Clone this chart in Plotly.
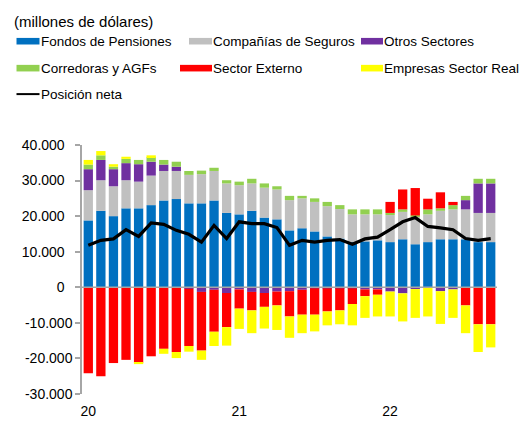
import plotly.graph_objects as go

# ---------------- data (millones de dólares) ----------------
months = [f"{m}-{y}" for y in ("20", "21", "22") for m in
          ("ene", "feb", "mar", "abr", "may", "jun", "jul", "ago", "sep", "oct", "nov", "dic")][:33]

fondos_pensiones = [18.8, 21.5, 20.0, 22.2, 22.2, 23.1, 24.4, 24.8, 23.6, 23.6, 24.4,
                    20.9, 20.5, 21.5, 19.6, 19.1, 16.0, 16.6, 15.7, 14.3, 13.7, 12.7,
                    12.9, 13.2, 12.7, 13.5, 12.1, 12.7, 13.5, 13.5, 13.5, 12.7, 12.7]
companias_seguros = [8.5, 8.6, 8.4, 7.9, 7.5, 8.3, 8.3, 7.9, 8.0, 8.2, 8.3,
                     8.3, 8.2, 7.7, 8.4, 8.4, 8.5, 8.4, 8.3, 8.5, 8.3, 7.8,
                     7.6, 7.3, 7.6, 7.7, 7.9, 7.8, 8.0, 8.4, 8.4, 8.2, 8.2]
otros_sectores = [5.9, 5.7, 4.8, 4.8, 4.9, 3.9, 1.8, 1.2, -0.4, -1.3, -0.7,
                  -1.6, -0.6, -1.3, -1.6, -1.2, -1.1, -0.7, -0.3, -0.3, -0.3, -0.3,
                  -0.6, -0.6, -1.2, -1.7, -0.5, -0.2, -1.1, -0.6, 2.6, 8.3, 8.3]
corredoras_agf = [1.3, 1.3, 0.7, 1.2, 1.2, 1.3, 1.3, 1.4, 1.1, 1.0, 0.9,
                  0.9, 1.0, 1.3, 1.2, 0.9, 1.2, 0.7, 1.0, 1.2, 1.1, 1.4,
                  1.4, 1.4, 0.6, 0.7, 0.2, 1.4, 0.7, 1.2, 1.2, 1.3, 1.3]
sector_externo = [-24.2, -25.0, -21.3, -20.4, -21.2, -19.4, -17.3, -18.2, -16.1, -16.5, -11.8,
                  -9.6, -5.4, -5.2, -3.9, -3.9, -7.1, -7.0, -7.4, -6.5, -6.2, -4.4,
                  -1.9, -1.5, 3.1, 5.6, 7.7, 3.0, 4.5, 0.9, -5.1, -10.4, -10.4]
empresas_sector_real = [1.3, 1.2, 0.7, 0.6, -0.4, 0.5, -1.4, -1.7, -1.6, -2.6, -4.0,
                        -5.2, -5.7, -6.4, -6.1, -6.9, -6.0, -5.2, -4.7, -3.9, -3.9, -6.0,
                        -6.1, -6.1, -7.0, -7.9, -8.1, -8.0, -9.2, -8.0, -7.8, -7.8, -6.5]
posicion_neta = [11.8, 13.2, 13.6, 16.2, 14.3, 18.1, 17.7, 16.0, 14.9, 12.7, 17.4,
                 13.7, 18.4, 17.9, 17.9, 16.8, 11.8, 13.2, 12.7, 13.2, 13.4, 12.1,
                 13.6, 14.1, 16.2, 18.4, 19.6, 17.1, 16.7, 16.2, 13.7, 13.2, 13.7]

series = [
    ("Fondos de Pensiones", fondos_pensiones, "#0070C0"),
    ("Compañías de Seguros", companias_seguros, "#C0C0C0"),
    ("Otros Sectores", otros_sectores, "#7030A0"),
    ("Corredoras y AGFs", corredoras_agf, "#92D050"),
    ("Sector Externo", sector_externo, "#FF0000"),
    ("Empresas Sector Real", empresas_sector_real, "#FFFF00"),
]

x_tick_idx = [0, 12, 24]
x_tick_text = ["20", "21", "22"]
y_tick_vals = [40000, 30000, 20000, 10000, 0, -10000, -20000, -30000]
y_tick_text = ["40.000\u00a0\u00a0", "30.000\u00a0\u00a0", "20.000\u00a0\u00a0", "10.000\u00a0\u00a0",
               "0\u00a0\u00a0", "-10.000", "-20.000", "-30.000"]

# ---------------- layout geometry (pixels) ----------------
W, H = 526, 422
L, R, T, B = 82, 497, 145, 394.5
FONT = "Liberation Sans, Arial, sans-serif"


def px2x(px):
    return (px - L) / (R - L)


def py2y(py):
    return (B - py) / (B - T)


fig = go.Figure()
for name, vals, color in series:
    fig.add_trace(go.Bar(x=months, y=[v * 1000 for v in vals], name=name,
                         marker=dict(color=color, line=dict(width=0)),
                         showlegend=False))
fig.add_trace(go.Scatter(x=months, y=[v * 1000 for v in posicion_neta], name="Posición neta",
                         mode="lines", line=dict(color="black", width=3.2),
                         showlegend=False))

# manual legend
legend_items = [
    # label, color, kind, swatch x0, swatch x1, row y, text x
    ("Fondos de Pensiones", "#0070C0", "bar", 16.5, 39.5, 41, 39),
    ("Compañías de Seguros", "#C0C0C0", "bar", 189, 212, 41, 211),
    ("Otros Sectores", "#7030A0", "bar", 361, 383, 41, 382),
    ("Corredoras y AGFs", "#92D050", "bar", 16.5, 39.5, 68, 39),
    ("Sector Externo", "#FF0000", "bar", 180, 212, 68, 211),
    ("Empresas Sector Real", "#FFFF00", "bar", 361, 383, 68, 382),
    ("Posición neta", "black", "line", 16.5, 39.5, 94, 39),
]
shapes = []
annotations = []
for label, color, kind, sx0, sx1, ry, tx in legend_items:
    if kind == "bar":
        shapes.append(dict(type="rect", xref="paper", yref="paper",
                           x0=px2x(sx0), x1=px2x(sx1), y0=py2y(ry + 3.3), y1=py2y(ry - 3.3),
                           fillcolor=color, line=dict(width=0)))
    else:
        shapes.append(dict(type="line", xref="paper", yref="paper",
                           x0=px2x(sx0), x1=px2x(sx1), y0=py2y(ry), y1=py2y(ry),
                           line=dict(color=color, width=2)))
    annotations.append(dict(text=label, xref="paper", yref="paper", x=px2x(tx), y=py2y(ry),
                            xanchor="left", yanchor="middle", showarrow=False,
                            font=dict(family=FONT, size=13.5, color="black")))

annotations.append(dict(text="(millones de dólares)", xref="paper", yref="paper",
                        x=px2x(12), y=py2y(21), xanchor="left", yanchor="middle",
                        showarrow=False, font=dict(family=FONT, size=15, color="black")))

# horizontal axis line at zero, above bars
shapes.append(dict(type="line", xref="paper", yref="y", x0=0, x1=1, y0=0, y1=0,
                   layer="above", line=dict(color="#A6A6A6", width=1.5)))

fig.update_layout(
    width=W, height=H,
    margin=dict(l=L, r=W - R, t=T, b=H - B, pad=0, autoexpand=False),
    paper_bgcolor="white", plot_bgcolor="white",
    barmode="relative", bargap=0.26,
    font=dict(family=FONT, size=14, color="black"),
    shapes=shapes, annotations=annotations,
    xaxis=dict(type="category", range=[-0.5, 32.5], showgrid=False, zeroline=False,
               showline=False, ticks="", tickmode="array", automargin=False,
               tickvals=[months[i] for i in x_tick_idx], ticktext=x_tick_text,
               tickfont=dict(family=FONT, size=14), ticklabelstandoff=7),
    yaxis=dict(range=[-30000, 40000], showgrid=False, zeroline=False, automargin=False,
               showline=True, linecolor="#A6A6A6", linewidth=1.5,
               ticks="outside", ticklen=5, tickcolor="#A6A6A6", tickwidth=1.5,
               tickmode="array", tickvals=y_tick_vals, ticktext=y_tick_text,
               tickfont=dict(family=FONT, size=14)),
)

fig.write_html("out.html", config={"displayModeBar": False},
               post_script="document.body.style.margin='0px';document.body.style.overflow='hidden';")
